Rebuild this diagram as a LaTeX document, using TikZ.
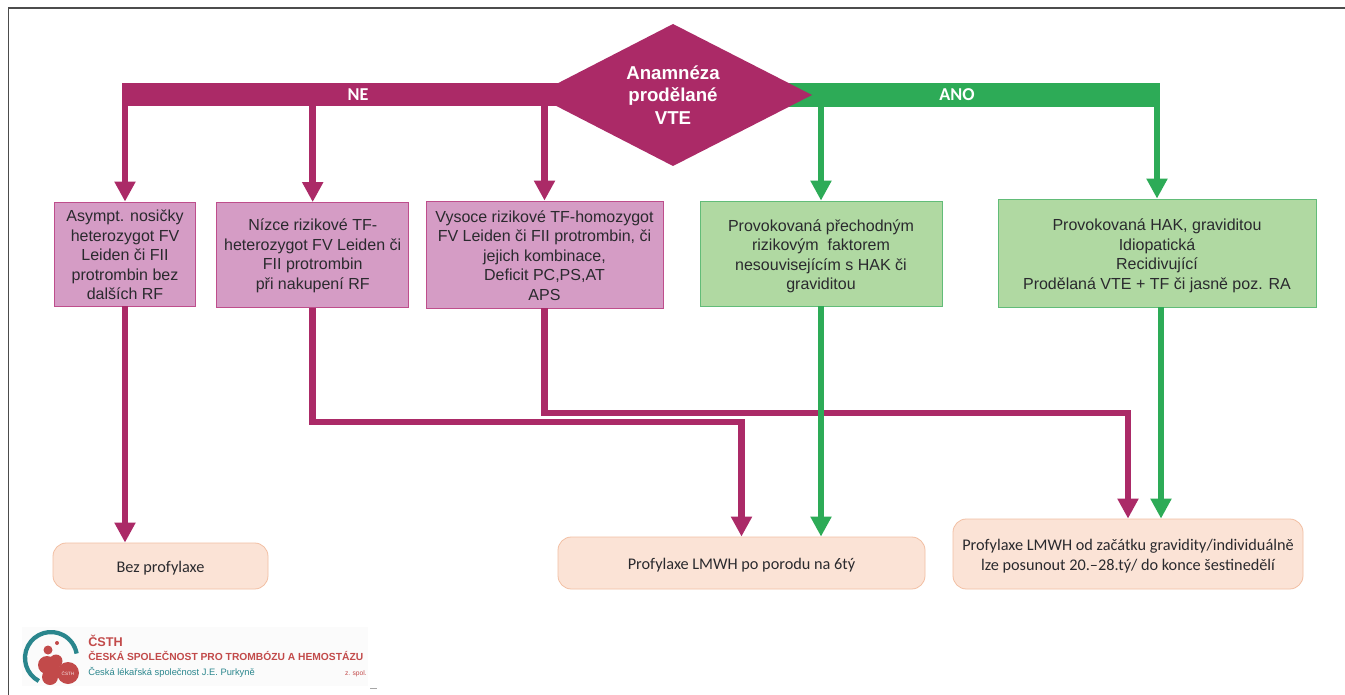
\documentclass[tikz,border=0pt]{standalone}
\usepackage{fontspec}
\setmainfont{Liberation Sans}
\newfontfamily\carl{Carlito}
\usetikzlibrary{arrows.meta}
\definecolor{mag}{HTML}{AB2A67}
\definecolor{grn}{HTML}{2DAB57}
\definecolor{magfill}{HTML}{D59CC5}
\definecolor{magline}{HTML}{BE4E8C}
\definecolor{grnfill}{HTML}{B0D9A2}
\definecolor{grnline}{HTML}{62BC78}
\definecolor{peach}{HTML}{FBE3D6}
\definecolor{peachline}{HTML}{F2BFA3}
\definecolor{txt}{HTML}{2A2A2E}
\definecolor{logored}{HTML}{C24A4A}
\definecolor{logoteal}{HTML}{2A868D}
\newcommand\dnA{\rule{0pt}{10.2pt}}
\newcommand\dnB{\rule{0pt}{13pt}}
\newcommand\dnC{\rule{0pt}{12pt}}
\tikzset{
  wh/.style 2 args={minimum width=#1*0.75pt,minimum height=#2*0.75pt},
  bar/.style={inner sep=0pt,text=white,font=\carl\bfseries\fontsize{13.6}{14}\selectfont},
  mbox/.style={draw=magline,fill=magfill,line width=0.6pt,inner sep=0pt,text=txt,align=center,
     font=\fontsize{12}{14.6}\selectfont},
  gbox/.style={draw=grnline,fill=grnfill,line width=0.6pt,inner sep=0pt,text=txt,align=center,
     font=\fontsize{12}{14.6}\selectfont},
  pbox/.style={draw=peachline,fill=peach,line width=0.6pt,rounded corners=10pt,inner sep=0pt,text=txt,align=center,
     font=\carl\fontsize{12.2}{15}\selectfont},
  conn/.style={line width=5pt,-{Triangle[length=15pt,width=15pt]}},
  mconn/.style={conn,draw=mag},
  gconn/.style={conn,draw=grn},
}
\begin{document}
\begin{tikzpicture}[x=0.75pt,y=-0.75pt]
\useasboundingbox (0,0) rectangle (1345,695);
\fill[white] (0,0) rectangle (1345,695);
% frame
\draw[line width=1pt,draw=black!70] (8.5,695) -- (8.5,8) -- (1345,8);

% bars and decision
\node[bar,fill=mag,wh={472}{23}] (barN) at (358,94.5) {NE};
\node[bar,fill=grn,wh={406}{24}] (barA) at (957,95) {ANO};
\fill[mag] (535,95) -- (673,24) -- (812,95) -- (673,166) -- cycle;
\node[inner sep=0pt,text=white,align=center,
  font=\bfseries\fontsize{14}{16.9}\selectfont] (dec) at (673,95) {Anamnéza\\prodělané\\VTE};

% upper boxes
\node[mbox,wh={141}{104}] (A) at (125,254) {\dnA Asympt. nosičky\\heterozygot FV\\Leiden či FII\\protrombin bez\\dalších RF};
\node[mbox,wh={192}{105}] (B) at (312.7,255) {\dnA Nízce rizikové TF-\\heterozygot FV Leiden či\\FII protrombin\\při nakupení RF};
\node[mbox,wh={237}{107}] (C) at (544.5,254.5) {\dnA Vysoce rizikové TF-homozygot\\FV Leiden či FII protrombin, či\\jejich kombinace,\\Deficit PC,PS,AT\\APS};
\node[gbox,wh={242}{105}] (D) at (821,253.5) {\dnB Provokovaná přechodným\\rizikovým\ \ faktorem\\nesouvisejícím s HAK či\\graviditou};
\node[gbox,wh={318}{108}] (E) at (1157,253) {\dnB Provokovaná HAK, graviditou\\Idiopatická\\Recidivující\\Prodělaná VTE + TF či jasně poz. RA};

% lower boxes
\node[pbox,wh={215}{46}] (F) at (160.5,566) {\dnC Bez profylaxe};
\node[pbox,wh={367}{52}] (G) at (741.5,563) {\dnC Profylaxe LMWH po porodu na 6tý};
\node[pbox,wh={350}{70}] (H) at (1128,554) {\dnC Profylaxe LMWH od začátku gravidity/individuálně\\lze posunout 20.–28.tý/ do konce šestinedělí};

% connectors from bars
\draw[mconn] (barN.south -| A.north) -- (A.north);
\draw[mconn] (barN.south -| B.north) -- (B.north);
\draw[mconn] (barN.south -| C.north) -- (C.north);
\draw[gconn] (barA.south -| D.north) -- (D.north);
\draw[gconn] (barA.south -| E.north) -- (E.north);

% connectors to outcomes
\coordinate (bturn) at (312.7,422);
\coordinate (cturn) at (544.5,413);
\coordinate (eout) at (1161,307);
\draw[mconn] (A.south) -- (A.south |- F.north);
\draw[mconn] (B.south) -- (bturn) -- (bturn -| G.north) -- (G.north);
\draw[mconn] (C.south) -- (cturn) -- (cturn -| H.north) -- (H.north);
\draw[gconn] (D.south) -- (D.south |- G.north);
\draw[gconn] (eout) -- (eout |- H.north);

% logo
\fill[black!1.5] (22,627) rectangle (368,686);
\draw[logoteal,line width=3.2pt] (38.8,681) arc[start angle=118,end angle=350,radius=26];
\foreach \cx/\cy/\r in {48/650/4.5,57/643/2,47/665/9,56/661/6.5,50/677/8,58/672/6}
  \fill[logored] (\cx,\cy) circle[radius=\r];
\fill[logored] (68,673) circle[radius=11];
\node[inner sep=0pt,text=white!85!logored,font=\fontsize{3.5}{4}\selectfont] (l0) at (68,673) {ČSTH};
\node[anchor=base west,inner sep=0pt,text=logored,font=\bfseries\fontsize{9.5}{10}\selectfont] (l1) at (88,646) {ČSTH};
\node[anchor=base west,inner sep=0pt,text=logored,font=\bfseries\fontsize{7.7}{8}\selectfont] (l2) at (88,660) {ČESKÁ SPOLEČNOST PRO TROMBÓZU A HEMOSTÁZU};
\node[anchor=base west,inner sep=0pt,text=logoteal,font=\fontsize{7}{8}\selectfont] (l3) at (88,675) {Česká lékařská společnost J.E. Purkyně};
\node[anchor=base east,inner sep=0pt,text=logored,font=\fontsize{5}{6}\selectfont] (l4) at (367,675) {z. spol.};
\fill[black!35] (370,687.5) rectangle (377,689);
\end{tikzpicture}
\end{document}
